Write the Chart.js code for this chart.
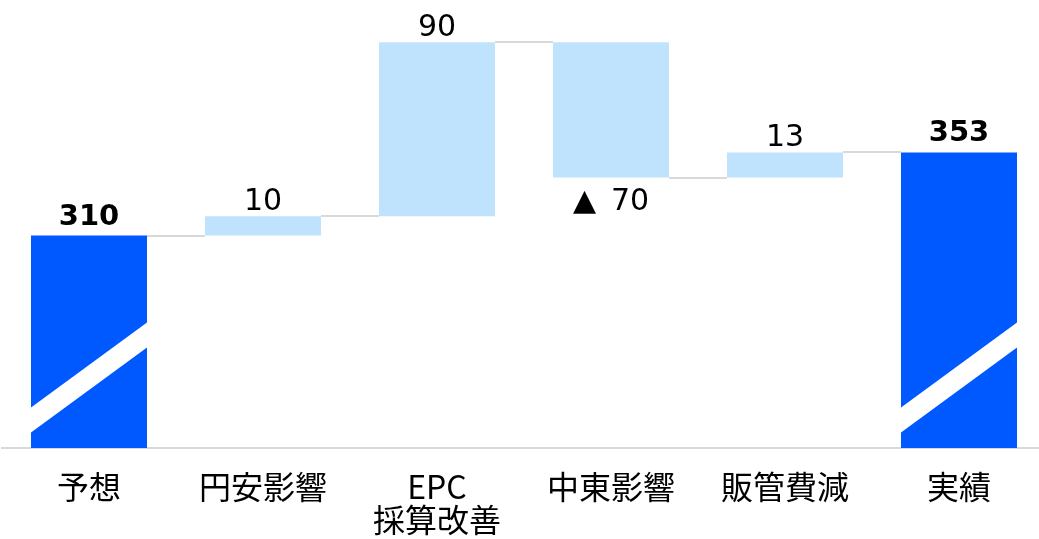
<!DOCTYPE html>
<html>
<head>
<meta charset="utf-8">
<script src="https://cdn.jsdelivr.net/npm/chart.js@4"></script>
<style>
  html, body { margin: 0; padding: 0; background: #fff; overflow: hidden; }
  #wrap { width: 1046px; height: 539px; }
</style>
</head>
<body>
<div id="wrap"><canvas id="myChart"></canvas></div>
<script>
// Dados
const categorias = ["予想", "円安影響", ["EPC", "採算改善"], "中東影響", "販管費減", "実績"];
const valores = [310, 10, 90, -70, 13, 353];
const ehTotal = [true, false, false, false, false, true];
const rotulos = ["310", "10", "90", "▲\u200270", "13", "353"];
const eixoMin = 200;
const eixoMax = 420;
// faixa branca do corte de eixo (valores na borda esquerda / direita da barra)
const corteInferior = [208, 252];
const corteSuperior = [221, 265];

// monta as barras flutuantes da cascata
let acumulado = 0;
const barras = valores.map((v, i) => {
  if (ehTotal[i]) {
    acumulado = v;
    return [eixoMin, v];
  }
  const ini = acumulado;
  acumulado += v;
  return [Math.min(ini, acumulado), Math.max(ini, acumulado)];
});
// nivel onde cada barra termina (para as linhas de ligacao)
let soma = 0;
const niveis = valores.map((v, i) => (soma = ehTotal[i] ? v : soma + v));

const azulEscuro = "#0059ff";
const azulClaro = "#bfe3fc";

const cascata = {
  id: "cascata",
  beforeDatasetsDraw(chart) {
    const ctx = chart.ctx;
    const y = chart.scales.y;
    const meta = chart.getDatasetMeta(0);
    ctx.save();
    ctx.strokeStyle = "#d9d9d9";
    ctx.lineWidth = 2;
    for (let i = 0; i < meta.data.length - 1; i++) {
      const a = meta.data[i];
      const b = meta.data[i + 1];
      const py = Math.round(y.getPixelForValue(niveis[i]));
      ctx.beginPath();
      ctx.moveTo(a.x + a.width / 2, py);
      ctx.lineTo(b.x - b.width / 2, py);
      ctx.stroke();
    }
    ctx.restore();
  },
  afterDatasetsDraw(chart) {
    const ctx = chart.ctx;
    const y = chart.scales.y;
    const meta = chart.getDatasetMeta(0);
    ctx.save();
    // corte do eixo nas barras de total
    ctx.fillStyle = "#ffffff";
    meta.data.forEach((bar, i) => {
      if (!ehTotal[i]) return;
      const l = bar.x - bar.width / 2;
      const r = bar.x + bar.width / 2;
      ctx.beginPath();
      ctx.moveTo(l, y.getPixelForValue(corteInferior[0]));
      ctx.lineTo(r, y.getPixelForValue(corteInferior[1]));
      ctx.lineTo(r, y.getPixelForValue(corteSuperior[1]));
      ctx.lineTo(l, y.getPixelForValue(corteSuperior[0]));
      ctx.closePath();
      ctx.fill();
    });
    // rotulos de valor
    ctx.fillStyle = "#000";
    ctx.textAlign = "center";
    ctx.textBaseline = "alphabetic";
    meta.data.forEach((bar, i) => {
      const topo = y.getPixelForValue(barras[i][1]);
      const base = y.getPixelForValue(barras[i][0]);
      if (ehTotal[i]) {
        ctx.font = "bold 29px 'DejaVu Sans'";
        ctx.fillText(rotulos[i], bar.x, topo - 11);
      } else if (valores[i] < 0) {
        ctx.font = "30px 'DejaVu Sans'";
        ctx.fillText(rotulos[i], bar.x, base + 32);
      } else {
        ctx.font = "30px 'DejaVu Sans'";
        ctx.fillText(rotulos[i], bar.x, topo - 6);
      }
    });
    ctx.restore();
  },
};

function grafico() {
  const ctx = document.getElementById("myChart");
  new Chart(ctx, {
    type: "bar",
    data: {
      labels: categorias,
      datasets: [
        {
          data: barras,
          backgroundColor: ehTotal.map((t) => (t ? azulEscuro : azulClaro)),
          borderWidth: 0,
          borderSkipped: false,
          barPercentage: 1,
          categoryPercentage: 2 / 3,
        },
      ],
    },
    options: {
      responsive: true,
      maintainAspectRatio: false,
      animation: false,
      layout: { padding: { left: 2, right: 0, top: 23, bottom: 0 } },
      plugins: { legend: { display: false }, tooltip: { enabled: false } },
      scales: {
        x: {
          grid: { display: false, drawTicks: false },
          border: { display: true, color: "#d9d9d9", width: 2 },
          afterFit: (scale) => {
            scale.height = 91;
          },
          ticks: {
            padding: 22,
            color: "#000",
            autoSkip: false,
            maxRotation: 0,
            font: { family: "'Noto Sans CJK JP'", size: 32, lineHeight: 1.03 },
          },
        },
        y: {
          display: false,
          min: eixoMin,
          max: eixoMax,
        },
      },
    },
    plugins: [cascata],
  });
}

grafico();
</script>
</body>
</html>
